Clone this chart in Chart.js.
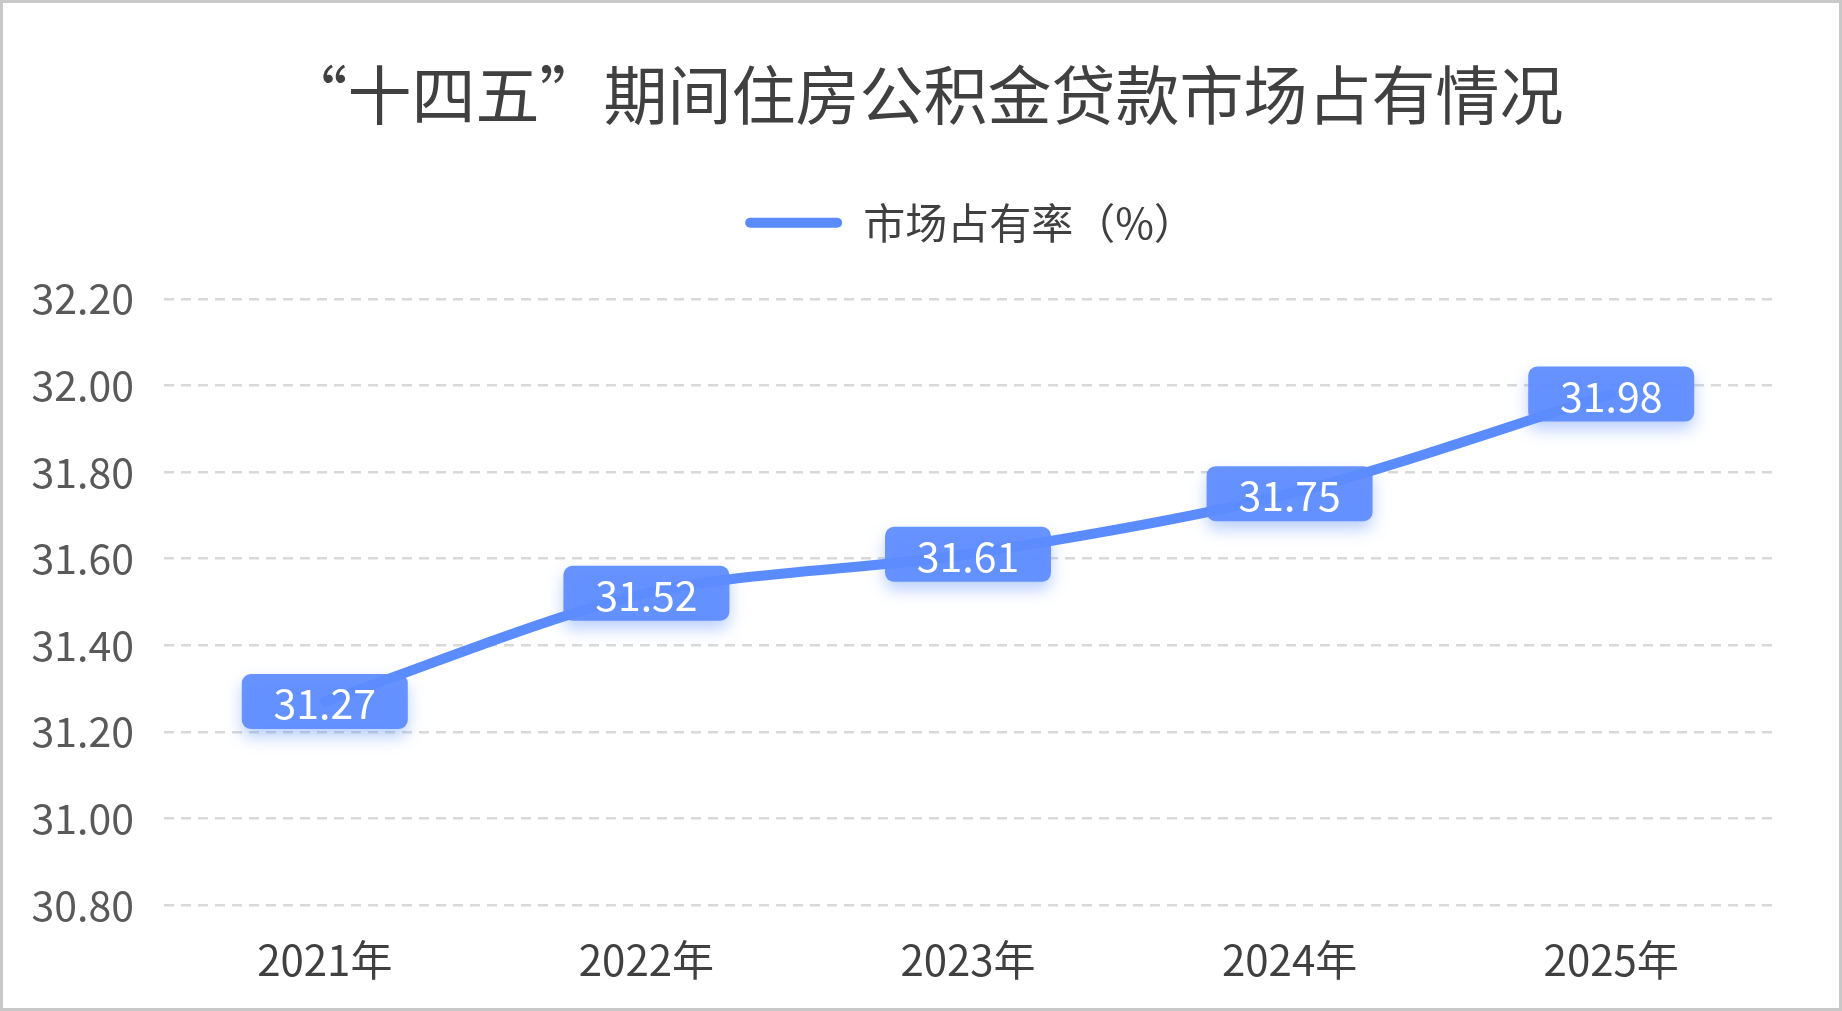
<!DOCTYPE html>
<html>
<head>
<meta charset="utf-8">
<script src="https://cdn.jsdelivr.net/npm/chart.js@4/dist/chart.umd.min.js"></script>
<style>
    html, body { margin: 0; padding: 0; background: #fff; }
    #wrap { position: relative; width: 1842px; height: 1011px; }
    #frame { position: absolute; left: 0; top: 0; right: 0; bottom: 0; border: 3px solid #c8c8c8; pointer-events: none; }
</style>
</head>
<body>
<div id="wrap">
    <canvas id="lineChart" width="1842" height="1011"></canvas>
    <div id="frame"></div>
</div>
<script>
    // 数据
    const anos = ['2021年', '2022年', '2023年', '2024年', '2025年'];
    const taxaMercado = [31.27, 31.52, 31.61, 31.75, 31.98];
    const eixoY = { min: 30.8, max: 32.2, passo: 0.2 };
    const tituloTexto = '“十四五”期间住房公积金贷款市场占有情况';
    const serieNome = '市场占有率（%）';

    const fonte = '"Noto Sans CJK SC", "Noto Sans", sans-serif';
    const azul = '#5b8cff';

    // Espaço extra abaixo da legenda e centralização sobre a área do gráfico
    const legendaEspaco = {
        id: 'legendaEspaco',
        beforeInit(chart) {
            const fitOriginal = chart.legend.fit;
            chart.legend.fit = function () {
                fitOriginal.bind(chart.legend)();
                this.height += 45;
            };
        },
        afterLayout(chart) {
            chart.titleBlock.left += 75;
            chart.legend.left += 169;
        }
    };

    // Rótulos de valor em caixas arredondadas
    const rotulosPlugin = {
        id: 'rotulos',
        afterDatasetsDraw(chart) {
            const ctx = chart.ctx;
            const meta = chart.getDatasetMeta(0);
            ctx.save();
            ctx.font = '41px ' + fonte;
            ctx.textAlign = 'center';
            ctx.textBaseline = 'middle';
            meta.data.forEach((pt, i) => {
                const txt = taxaMercado[i].toFixed(2);
                const w = 166, h = 55;
                ctx.save();
                ctx.shadowColor = 'rgba(91,140,255,0.45)';
                ctx.shadowBlur = 16;
                ctx.shadowOffsetY = 8;
                ctx.fillStyle = 'rgba(92,140,255,0.93)';
                ctx.beginPath();
                ctx.roundRect(pt.x - w / 2, pt.y - h / 2, w, h, 9);
                ctx.fill();
                ctx.restore();
                ctx.fillStyle = '#ffffff';
                ctx.fillText(txt, pt.x, pt.y + 2);
            });
            ctx.restore();
        }
    };

    const ctx = document.getElementById('lineChart').getContext('2d');
    window.chartInstance = new Chart(ctx, {
        type: 'line',
        data: {
            labels: anos,
            datasets: [{
                label: serieNome,
                data: taxaMercado,
                borderColor: azul,
                backgroundColor: azul,
                borderWidth: 10,
                borderCapStyle: 'round',
                tension: 0.3,
                pointRadius: 0,
                fill: false
            }]
        },
        options: {
            responsive: false,
            animation: false,
            devicePixelRatio: 1,
            layout: { padding: { top: 0, right: 70, bottom: 0, left: 0 } },
            plugins: {
                tooltip: { enabled: false },
                title: {
                    display: true,
                    text: tituloTexto,
                    color: '#404040',
                    font: { family: fonte, size: 64, weight: 'normal' },
                    padding: { top: 56, bottom: 49 }
                },
                legend: {
                    display: true,
                    labels: {
                        color: '#404040',
                        font: { family: fonte, size: 42 },
                        boxWidth: 97,
                        boxHeight: 10,
                        useBorderRadius: true,
                        borderRadius: 5,
                        padding: 20,
                        generateLabels: (chart) => Chart.defaults.plugins.legend.labels.generateLabels(chart)
                            .map(l => ({ ...l, lineWidth: 0 }))
                    }
                }
            },
            scales: {
                x: {
                    offset: true,
                    afterFit: (scale) => { scale.height = 106; },
                    grid: { display: false, drawTicks: false },
                    border: { display: false },
                    ticks: {
                        color: '#404040',
                        font: { family: fonte, size: 42 },
                        padding: 30
                    }
                },
                y: {
                    min: eixoY.min,
                    max: eixoY.max,
                    afterFit: (scale) => { scale.width = 164; },
                    grid: { color: '#d9d9d9', lineWidth: 2.5, drawTicks: false },
                    border: { display: false, dash: [10, 7] },
                    ticks: {
                        stepSize: eixoY.passo,
                        color: '#595959',
                        font: { family: fonte, size: 41 },
                        padding: 30,
                        callback: (v) => Number(v).toFixed(2)
                    }
                }
            }
        },
        plugins: [legendaEspaco, rotulosPlugin]
    });
</script>
</body>
</html>
